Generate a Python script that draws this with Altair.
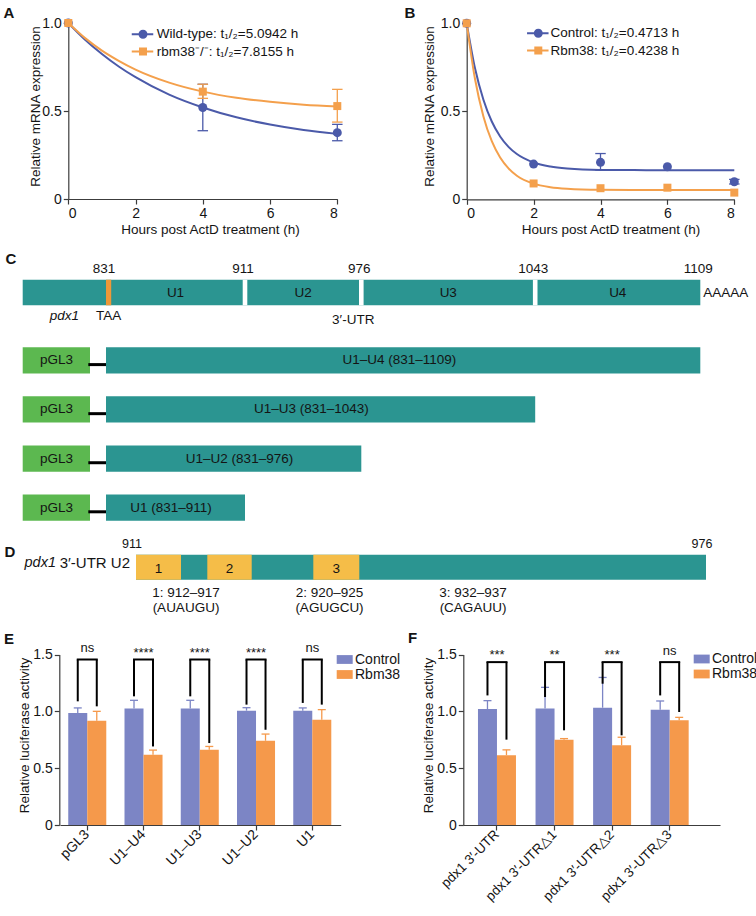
import altair as alt
import pandas as pd

W, H = 756, 916
FONT = "Liberation Sans"
INK = "#141414"
AXIS_COL = "#3c3c3c"

BLUE = "#4b5aa9"
ORANGE = "#f4a04c"
BAR_BLUE = "#7c85c5"
BAR_ORANGE = "#f5994b"
TEAL = "#2b9591"
GREEN = "#5cb850"
YELLOW = "#f5bd48"
STOP_ORANGE = "#ee9838"

PATH_LINE_CIRCLE = "M-1,-0.2L3.3,-0.2L3.3,0.2L-1,0.2Z M2.15,0A0.9,0.9 0 1,1 0.35,0A0.9,0.9 0 1,1 2.15,0Z"
PATH_LINE_SQUARE = "M-1,-0.2L3.3,-0.2L3.3,0.2L-1,0.2Z M0.45,-0.8L2.05,-0.8L2.05,0.8L0.45,0.8Z"
PATH_RECT = "M-1,-0.55L1,-0.55L1,0.55L-1,0.55Z"

# ---------------- Panel A data ----------------
a_series = ["Wild-type: t\u2081/\u2082=5.0942 h", "rbm38\u207b/\u207b: t\u2081/\u2082=7.8155 h"]
a_time = [0, 4, 8]
a_wt_mean = [1.0, 0.520, 0.377]
a_wt_low = [1.0, 0.388, 0.331]
a_wt_high = [1.0, 0.652, 0.424]
a_ko_mean = [1.0, 0.610, 0.528]
a_ko_low = [1.0, 0.572, 0.437]
a_ko_high = [1.0, 0.652, 0.623]
a_fit_time = [0, 0.5, 1, 1.5, 2, 3, 4, 5, 6, 7, 8]
a_wt_fit = [1.0, 0.905, 0.824, 0.753, 0.692, 0.593, 0.520, 0.464, 0.423, 0.392, 0.370]
a_ko_fit = [1.0, 0.914, 0.843, 0.785, 0.735, 0.661, 0.610, 0.575, 0.552, 0.536, 0.526]

# ---------------- Panel B data ----------------
b_series = ["Control: t\u2081/\u2082=0.4713 h", "Rbm38: t\u2081/\u2082=0.4238 h"]
b_time = [0, 2, 4, 6, 8]
b_ctrl_mean = [1.0, 0.200, 0.210, 0.185, 0.100]
b_ctrl_low = [1.0, 0.200, 0.166, 0.185, 0.087]
b_ctrl_high = [1.0, 0.200, 0.260, 0.185, 0.113]
b_rbm_mean = [1.0, 0.090, 0.063, 0.066, 0.038]
b_rbm_low = [1.0, 0.090, 0.063, 0.066, 0.038]
b_rbm_high = [1.0, 0.090, 0.063, 0.066, 0.038]
b_fit_time = [0, 0.25, 0.5, 0.75, 1, 1.25, 1.5, 2, 2.5, 3, 4, 5, 6, 7, 8]
b_ctrl_fit = [1.0, 0.743, 0.566, 0.442, 0.357, 0.298, 0.257, 0.209, 0.186, 0.175, 0.167, 0.166, 0.165, 0.165, 0.165]
b_rbm_fit = [1.0, 0.682, 0.471, 0.330, 0.238, 0.176, 0.134, 0.089, 0.069, 0.060, 0.054, 0.053, 0.053, 0.053, 0.053]

# ---------------- Panel C data ----------------
c_tick_pos = [831, 911, 976, 1043, 1109]
c_seg_name = ["U1", "U2", "U3", "U4"]
c_seg_start = [831, 911, 976, 1043]
c_seg_end = [911, 976, 1043, 1109]
c_cds = [1, 831]
c_stop = [831, 834]
c_utr = [834, 1109]
con_name = ["U1\u2013U4", "U1\u2013U3", "U1\u2013U2", "U1"]
con_start = [831, 831, 831, 831]
con_end = [1109, 1043, 976, 911]

# ---------------- Panel D data ----------------
d_region = [911, 976]
d_site_id = [1, 2, 3]
d_site_start = [912, 920, 932]
d_site_end = [917, 925, 937]
d_site_seq = ["AUAUGU", "AGUGCU", "CAGAUU"]

# ---------------- Panel E data ----------------
e_cats = ["pGL3", "U1\u2013U4", "U1\u2013U3", "U1\u2013U2", "U1"]
e_ctrl = [0.985, 1.024, 1.024, 1.006, 1.006]
e_ctrl_err = [1.030, 1.097, 1.097, 1.032, 1.030]
e_rbm = [0.918, 0.618, 0.662, 0.741, 0.926]
e_rbm_err = [1.000, 0.659, 0.691, 0.800, 1.015]
e_sig = ["ns", "****", "****", "****", "ns"]
e_leg_ctrl = [1.088, 1.132, 1.132, 1.059, 1.074]
e_leg_rbm = [1.044, 0.691, 0.721, 0.838, 1.059]
e_bracket = 1.456

# ---------------- Panel F data ----------------
f_cats = ["pdx1 3\u2032-UTR", "pdx1 3\u2032-UTR\u25b31", "pdx1 3\u2032-UTR\u25b32", "pdx1 3\u2032-UTR\u25b33"]
f_ctrl = [1.020, 1.026, 1.032, 1.015]
f_ctrl_err = [1.094, 1.211, 1.298, 1.091]
f_rbm = [0.614, 0.751, 0.702, 0.921]
f_rbm_err = [0.661, 0.760, 0.772, 0.947]
f_sig = ["***", "**", "***", "ns"]
f_leg_ctrl = [1.140, 1.126, 1.243, 1.140]
f_leg_rbm = [0.751, 0.833, 0.789, 0.994]
f_bracket = 1.433

groups = ["Control", "Rbm38"]
LABEL_EXPR = "datum.value == 0 ? '0' : format(datum.value, '.1f')"


def axis_common(**kw):
    base = dict(grid=False, domainColor=AXIS_COL, tickColor=AXIS_COL, domainWidth=1.2, tickWidth=1.2,
                labelColor=INK, titleColor=INK, labelFont=FONT, titleFont=FONT,
                titleFontWeight="normal", tickSize=5, labelPadding=2)
    base.update(kw)
    return alt.Axis(**base)


def letter_layer(letter, xdatum, ydatum, dx, dy, xscale, yscale, xaxis=None, yaxis=None):
    return alt.Chart(pd.DataFrame({"letter": [letter]})).mark_text(
        fontSize=15, fontWeight="bold", dx=dx, dy=dy, baseline="middle", align="center", color=INK
    ).encode(x=alt.XDatum(xdatum, scale=xscale, axis=xaxis), y=alt.YDatum(ydatum, scale=yscale, axis=yaxis),
             text="letter:N")


def decay_panel(letter, series, time, means, lows, highs, fit_time, fits, colors, x_rng, y_rng,
                x_title_x, y_title_x, legend_x, legend_y, label_off, letter_dx, letter_dy):
    rows = []
    for s, m, lo, hi in zip(series, means, lows, highs):
        for t, a, b, c in zip(time, m, lo, hi):
            rows.append(dict(series=s, t=t, mean=a, low=b, high=c))
    pts = pd.DataFrame(rows)
    frows = []
    for s, f in zip(series, fits):
        for t, v in zip(fit_time, f):
            frows.append(dict(series=s, t=t, value=v))
    fit = pd.DataFrame(frows)

    xs = alt.Scale(domain=[0, 8], range=x_rng, nice=False, zero=False)
    ys = alt.Scale(domain=[0, 1], range=y_rng, nice=False, zero=False)
    cs = alt.Scale(domain=series, range=colors)
    x_axis = axis_common(orient="bottom", values=[0, 2, 4, 6, 8], labelFontSize=14,
                         title="Hours post ActD treatment (h)", titleFontSize=13.5,
                         offset=y_rng[0] - H, titleX=x_title_x, titleY=30, titleBaseline="middle")
    y_axis = axis_common(orient="left", values=[0, 0.5, 1.0], labelExpr=LABEL_EXPR,
                         labelFontSize=14, title="Relative mRNA expression", titleFontSize=13.5,
                         offset=-x_rng[0], titleX=y_title_x - x_rng[0], titleY=106, titleBaseline="middle")

    def X(f):
        return alt.X(f, type="quantitative", scale=xs, axis=x_axis)

    def Y(f):
        return alt.Y(f, type="quantitative", scale=ys, axis=y_axis)

    color = alt.Color("series:N", scale=cs, legend=None)
    leg = alt.Legend(orient="none", legendX=legend_x, legendY=legend_y, title=None, symbolSize=100,
                     symbolStrokeWidth=0, symbolOpacity=1, labelFontSize=13.5, labelOffset=label_off,
                     rowPadding=2.25, padding=0, labelColor=INK, labelFont=FONT, labelLimit=400)
    dummy = alt.Chart(pts).mark_point(filled=True, opacity=0).encode(
        x=X("t"), y=Y("mean"),
        color=alt.Color("series:N", scale=cs, legend=leg),
        shape=alt.Shape("series:N", scale=alt.Scale(domain=series, range=[PATH_LINE_CIRCLE, PATH_LINE_SQUARE]),
                        legend=leg))
    lines = alt.Chart(fit).mark_line(strokeWidth=2, interpolate="monotone").encode(
        x=X("t"), y=Y("value"), color=color)
    err = alt.Chart(pts).transform_filter("datum.high > datum.low")
    err_rule = err.mark_rule(strokeWidth=1.3).encode(x=X("t"), y=Y("low"), y2="high", color=color)
    err_cap = err.transform_fold(["low", "high"], as_=["end", "capv"]).mark_point(
        shape="stroke", size=110, strokeWidth=1.3, opacity=1).encode(x=X("t"), y=Y("capv:Q"), color=color)
    pts_layers = []
    for s, shp, sz in zip(series, ["circle", "square"], [81, 64]):
        pts_layers.append(
            alt.Chart(pts).transform_filter(alt.FieldEqualPredicate(field="series", equal=s))
            .mark_point(shape=shp, size=sz, filled=True, opacity=1)
            .encode(x=X("t"), y=Y("mean"), color=color))
    let = letter_layer(letter, 0, 1, letter_dx, letter_dy, xs, ys, x_axis, y_axis)
    return alt.layer(dummy, lines, err_rule, err_cap, *pts_layers, let)


def bar_panel(letter, cats, ctrl, ctrl_err, rbm, rbm_err, sig, leg_ctrl, leg_rbm, bracket_top,
              x_rng, pad_in, pad_out, align, y_axis_x, title_x, legend_x, legend_y, letter_dx, letter_dy,
              xlab_size):
    rows = []
    for i, c in enumerate(cats):
        rows.append(dict(cat=c, group=groups[0], value=ctrl[i], err=ctrl_err[i], leg=leg_ctrl[i], top=bracket_top))
        rows.append(dict(cat=c, group=groups[1], value=rbm[i], err=rbm_err[i], leg=leg_rbm[i], top=bracket_top))
    df = pd.DataFrame(rows)
    sig_df = pd.DataFrame(dict(cat=cats, sig=sig, top=[bracket_top] * len(cats)))

    xs = alt.Scale(type="band", domain=cats, range=x_rng, paddingInner=pad_in, paddingOuter=pad_out, align=align)
    xo = alt.Scale(domain=groups, paddingInner=0, paddingOuter=0)
    ys = alt.Scale(domain=[0, 1.5], range=[825, 654.5], nice=False, zero=False)
    cs = alt.Scale(domain=groups, range=[BAR_BLUE, BAR_ORANGE])
    x_axis = axis_common(orient="bottom", offset=825 - H, labelAngle=-45, labelAlign="right",
                         labelBaseline="middle", labelFontSize=xlab_size, labelPadding=2, title=None)
    y_axis = axis_common(orient="left", offset=-y_axis_x, values=[0, 0.5, 1.0, 1.5], labelExpr=LABEL_EXPR,
                         labelFontSize=14, title="Relative luciferase activity", titleFontSize=13.5,
                         titleX=title_x - y_axis_x, titleY=735, titleBaseline="middle")
    X = alt.X("cat:N", scale=xs, axis=x_axis)
    XO = alt.XOffset("group:N", scale=xo)

    def Y(f):
        return alt.Y(f, type="quantitative", scale=ys, axis=y_axis)

    leg = alt.Legend(orient="none", legendX=legend_x, legendY=legend_y, title=None, symbolType=PATH_RECT,
                     symbolSize=256, symbolStrokeWidth=0, labelFontSize=14, labelOffset=2.3, rowPadding=0,
                     padding=0, labelColor=INK, labelFont=FONT)
    base = alt.Chart(df)
    bars = base.mark_bar().encode(x=X, xOffset=XO, y=Y("value"),
                                  color=alt.Color("group:N", scale=cs, legend=leg))
    nocol = alt.Color("group:N", scale=cs, legend=None)
    err_rule = base.mark_rule(strokeWidth=1.3).encode(x=X, xOffset=XO, y=Y("value"), y2="err", color=nocol)
    err_cap = base.mark_point(shape="stroke", size=64, strokeWidth=1.3, opacity=1).encode(
        x=X, xOffset=XO, y=Y("err"), color=nocol)
    legs = base.mark_rule(color="black", strokeWidth=2).encode(x=X, xOffset=XO, y=Y("top"), y2="leg")
    topline = alt.Chart(sig_df).mark_point(shape="stroke", size=441, strokeWidth=2, color="black",
                                           opacity=1).encode(x=X, y=Y("top"))
    ns_txt = alt.Chart(sig_df).transform_filter("datum.sig == 'ns'").mark_text(
        fontSize=13, baseline="alphabetic", dy=-7.5, color=INK).encode(x=X, y=Y("top"), text="sig:N")
    st_txt = alt.Chart(sig_df).transform_filter("datum.sig != 'ns'").mark_text(
        fontSize=13, baseline="alphabetic", dy=-3, color=INK).encode(x=X, y=Y("top"), text="sig:N")
    let = letter_layer(letter, cats[0], 1.5, letter_dx, letter_dy, xs, ys, x_axis, y_axis)
    return alt.layer(bars, err_rule, err_cap, legs, topline, ns_txt, st_txt, let)


# ================= Panels A, B =================
panel_a = decay_panel("A", a_series, a_time, [a_wt_mean, a_ko_mean], [a_wt_low, a_ko_low],
                      [a_wt_high, a_ko_high], a_fit_time, [a_wt_fit, a_ko_fit], [BLUE, ORANGE],
                      [68.3, 337.3], [199, 23], 210, 35, 130, 27.5, 13.3, -59.3, -9.7)
panel_b = decay_panel("B", b_series, b_time, [b_ctrl_mean, b_rbm_mean], [b_ctrl_low, b_rbm_low],
                      [b_ctrl_high, b_rbm_high], b_fit_time, [b_ctrl_fit, b_rbm_fit], [BLUE, ORANGE],
                      [466.7, 734.3], [199.3, 23.3], 610.5, 429.3, 525.3, 26.6, 11.7, -56.7, -10.3)

# ================= Panel C (gene map) =================
xs_c = alt.Scale(domain=[1, 831, 911, 976, 1043, 1109], range=[22.7, 106, 245, 361.3, 535.2, 700.3],
                 nice=False, zero=False)
ys_top = alt.Scale(type="band", domain=["pdx1"], range=[279.7, 305.3], paddingInner=0, paddingOuter=0)


def XC(f):
    return alt.X(f, type="quantitative", scale=xs_c, axis=None)


def YT(band=None):
    if band is None:
        return alt.Y("row:N", scale=ys_top, axis=None)
    return alt.Y("row:N", scale=ys_top, axis=None, bandPosition=band)


top_df = pd.DataFrame({"row": ["pdx1"], "start": [c_cds[0]], "end": [c_seg_end[-1]]})
sep_df = pd.DataFrame({"row": "pdx1", "pos": c_seg_start[1:]})
stop_df = pd.DataFrame({"row": ["pdx1"], "start": [c_stop[0]], "end": [c_stop[1]]})
tick_df = pd.DataFrame({"row": "pdx1", "pos": c_tick_pos})
seg_df = pd.DataFrame({"row": "pdx1", "name": c_seg_name, "start": c_seg_start, "end": c_seg_end})
cds_df = pd.DataFrame({"row": ["pdx1"], "start": [c_cds[0]], "end": [c_cds[1]], "txt": ["pdx1"]})
taa_df = pd.DataFrame({"row": ["pdx1"], "start": [c_stop[0]], "end": [c_stop[1]], "txt": ["TAA"]})
utr_df = pd.DataFrame({"row": ["pdx1"], "start": [c_utr[0]], "end": [c_utr[1]], "txt": ["3\u2032-UTR"]})
MID = "(datum.start + datum.end) / 2"

c_top = alt.layer(
    alt.Chart(top_df).mark_rect(color=TEAL).encode(x=XC("start"), x2="end", y=YT()),
    alt.Chart(sep_df).mark_rect(color="white", xOffset=-2.3, x2Offset=2.3).encode(x=XC("pos"), x2="pos", y=YT()),
    alt.Chart(stop_df).mark_rect(color=STOP_ORANGE).encode(x=XC("start"), x2="end", y=YT()),
    alt.Chart(tick_df).mark_text(fontSize=13.5, baseline="alphabetic", dy=-7, dx=-2, color=INK).encode(
        x=XC("pos"), y=YT(0), text="pos:N"),
    alt.Chart(seg_df).transform_calculate(mid=MID).mark_text(fontSize=13.5, baseline="middle", color=INK).encode(
        x=XC("mid:Q"), y=YT(), text="name:N"),
    alt.Chart(cds_df).transform_calculate(mid=MID).mark_text(fontSize=13.5, fontStyle="italic", baseline="top",
                                                            dy=4, color=INK).encode(
        x=XC("mid:Q"), y=YT(1), text="txt:N"),
    alt.Chart(taa_df).transform_calculate(mid=MID).mark_text(fontSize=13.5, baseline="top", dy=4, color=INK).encode(
        x=XC("mid:Q"), y=YT(1), text="txt:N"),
    alt.Chart(utr_df).transform_calculate(mid=MID).mark_text(fontSize=13.5, baseline="top", dy=8, color=INK).encode(
        x=XC("mid:Q"), y=YT(1), text="txt:N"),
    alt.Chart(top_df).mark_text(fontSize=13.5, baseline="middle", align="left", dx=3, color=INK, text="AAAAA").encode(
        x=XC("end"), y=YT()),
    letter_layer("C", 1, "pdx1", -11.7, -33.5, xs_c, ys_top),
)

ys_con = alt.Scale(type="band", domain=con_name, range=[347.3, 520.7], paddingInner=0.466, paddingOuter=0)
con_df = pd.DataFrame({"name": con_name, "start": con_start, "end": con_end,
                       "label": [f"{n} ({s}\u2013{e})" for n, s, e in zip(con_name, con_start, con_end)]})
YCON = alt.Y("name:N", scale=ys_con, axis=None)
c_con = alt.layer(
    alt.Chart(con_df).mark_rect(color=GREEN, xOffset=-83.3, x2Offset=-16).encode(x=XC("start"), x2="start", y=YCON),
    alt.Chart(con_df).mark_rule(color="black", strokeWidth=3, xOffset=-17.7, x2Offset=1, yOffset=4.2).encode(
        x=XC("start"), x2="start", y=YCON),
    alt.Chart(con_df).mark_rect(color=TEAL).encode(x=XC("start"), x2="end", y=YCON),
    alt.Chart(con_df).mark_text(fontSize=13.5, dx=-49.6, baseline="middle", color=INK, text="pGL3").encode(
        x=XC("start"), y=YCON),
)
xs_conlab = alt.Scale(domain=[911, 976, 1043, 1109], range=[171, 239.5, 311.3, 399.3], nice=False, zero=False)
c_conlab = alt.Chart(con_df).mark_text(fontSize=13.5, baseline="middle", color=INK).encode(
    x=alt.X("end:Q", scale=xs_conlab, axis=None), y=YCON, text="label:N")

# ================= Panel D (U2 sites) =================
xs_d = alt.Scale(domain=[911, 917, 919, 925, 931, 937, 976], range=[136, 181, 207.3, 251.7, 313.3, 359.3, 706],
                 nice=False, zero=False)
ys_d = alt.Scale(type="band", domain=["U2"], range=[554.7, 579.7], paddingInner=0, paddingOuter=0)


def XD(f):
    return alt.X(f, type="quantitative", scale=xs_d, axis=None)


def YD(band=None):
    if band is None:
        return alt.Y("row:N", scale=ys_d, axis=None)
    return alt.Y("row:N", scale=ys_d, axis=None, bandPosition=band)


reg_df = pd.DataFrame({"row": ["U2"], "start": [d_region[0]], "end": [d_region[1]]})
reg_ends = pd.DataFrame({"row": "U2", "pos": d_region})
site_df = pd.DataFrame({"row": "U2", "id": d_site_id, "start": d_site_start, "end": d_site_end,
                        "seq": d_site_seq})
site_df["txt"] = [f"{i}: {s}\u2013{e}\n({q})" for i, s, e, q in zip(d_site_id, d_site_start, d_site_end, d_site_seq)]

d_main = alt.layer(
    alt.Chart(reg_df).mark_rect(color=TEAL).encode(x=XD("start"), x2="end", y=YD()),
    alt.Chart(site_df).transform_calculate(s0="datum.start - 1").mark_rect(color=YELLOW).encode(
        x=XD("s0:Q"), x2="end", y=YD()),
    alt.Chart(site_df).transform_calculate(mid="(datum.start - 1 + datum.end) / 2").mark_text(
        fontSize=13.5, baseline="middle", dy=1.5, color=INK).encode(x=XD("mid:Q"), y=YD(), text="id:N"),
    alt.Chart(reg_ends).mark_text(fontSize=12.5, baseline="alphabetic", dy=-6.5, dx=-4, color=INK).encode(
        x=XD("pos"), y=YD(0), text="pos:N"),
    alt.Chart(reg_df).mark_text(fontSize=14.5, fontStyle="italic", align="right", baseline="middle", dx=-80, dy=-4,
                                color=INK, text="pdx1").encode(x=XD("start"), y=YD()),
    alt.Chart(reg_df).mark_text(fontSize=15, align="right", baseline="middle", dx=-6, dy=-4,
                                color=INK, text="3\u2032-UTR U2").encode(x=XD("start"), y=YD()),
    letter_layer("D", 911, "U2", -126, -15.2, xs_d, ys_d),
)
xs_dlab = alt.Scale(type="point", domain=d_site_id, range=[186, 473], padding=0)
d_lab = alt.Chart(site_df).mark_text(fontSize=13.5, baseline="top", dy=6, lineBreak="\n", lineHeight=15,
                                     color=INK).encode(
    x=alt.X("id:O", scale=xs_dlab, axis=None), y=YD(1), text="txt:N")

# ================= Panels E, F =================
panel_e = bar_panel("E", e_cats, e_ctrl, e_ctrl_err, e_rbm, e_rbm_err, e_sig, e_leg_ctrl, e_leg_rbm, e_bracket,
                    [60, 340.7], 0.324, 0.157, 0.467, 59.3, 24, 336.7, 651.5, -78.3, -15.5, 14)
panel_f = bar_panel("F", f_cats, f_ctrl, f_ctrl_err, f_rbm, f_rbm_err, f_sig, f_leg_ctrl, f_leg_rbm, f_bracket,
                    [463.3, 720], 0.34, 0.3995, 0.319, 463.3, 428.5, 693.7, 651, -84.3, -16.5, 13.5)

chart = alt.layer(panel_a, panel_b, c_top, c_con, c_conlab, d_main, d_lab, panel_e, panel_f).resolve_scale(
    x="independent", y="independent", color="independent", shape="independent", xOffset="independent"
).resolve_axis(x="independent", y="independent").resolve_legend(
    color="independent", shape="independent"
).properties(
    width=W, height=H, padding=0, autosize=alt.AutoSizeParams(type="none")
).configure(font=FONT).configure_view(stroke=None).configure_axis(grid=False)

chart.save("out.html", embed_options={"renderer": "svg", "actions": False})
